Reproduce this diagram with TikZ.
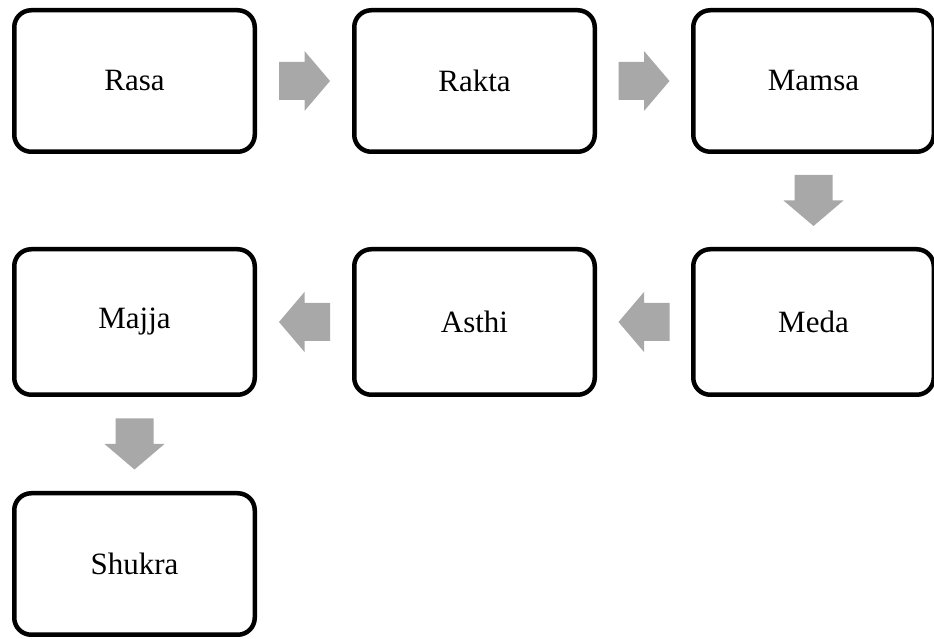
\documentclass[tikz,border=0pt]{standalone}
\usepackage{fontspec}
\setmainfont{Liberation Serif}
\definecolor{arrowgray}{RGB}{168,168,168}
\tikzset{
  tissue/.style={draw=black, line width=4.5pt, rounded corners=17pt, fill=white,
    minimum width=240.5pt, minimum height=141.5pt, inner sep=0pt,
    font=\fontsize{31}{36}\selectfont},
  tallbox/.style={minimum height=145.5pt},
  blockarrow/.pic={\fill[arrowgray] (-25.5,-19) -- (0,-19) -- (0,-30) -- (25.5,0) -- (0,30) -- (0,19) -- (-25.5,19) -- cycle;},
  flow/.style={sloped, allow upside down, pos=0.5}
}
\begin{document}
\begin{tikzpicture}[x=1pt,y=1pt]
\useasboundingbox (0,0) rectangle (934,639);
\node[tissue] (rasa)   at (134.5,558) {Rasa};
\node[tissue] (rakta)  at (474.5,558) {Rakta};
\node[tissue] (mamsa)  at (813.5,558) {Mamsa};
\node[tissue,tallbox] (meda)   at (813.5,317) {Meda};
\node[tissue,tallbox] (asthi)  at (474.5,317) {Asthi};
\node[tissue,tallbox] (majja)  at (134.5,317) {Majja};
\node[tissue] (shukra) at (134.5,75) {Shukra};
\path (rasa) -- (rakta) pic[flow] {blockarrow};
\path (rakta) -- (mamsa) pic[flow] {blockarrow};
\path (mamsa) -- (meda) pic[flow] {blockarrow};
\path (meda) -- (asthi) pic[flow] {blockarrow};
\path (asthi) -- (majja) pic[flow] {blockarrow};
\path (majja) -- (shukra) pic[flow] {blockarrow};
\end{tikzpicture}
\end{document}
